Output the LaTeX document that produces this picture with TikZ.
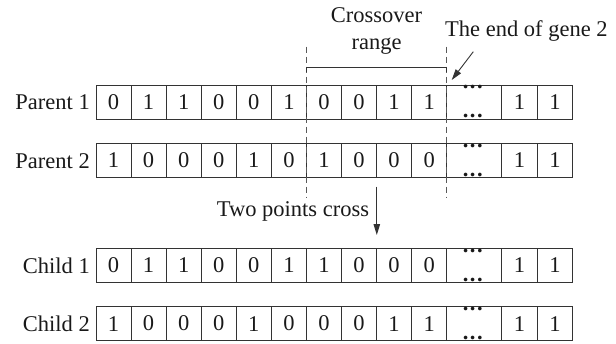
\documentclass[tikz,border=0pt]{standalone}
\usepackage{fontspec}
\setmainfont{Liberation Serif}
\usetikzlibrary{arrows.meta,calc}
\begin{document}
\begin{tikzpicture}[x=1pt,y=-1pt,
  txt/.style={font=\fontsize{22.5}{27.5}\selectfont, text=black!90, inner sep=0pt},
  cell/.style={txt, draw=black!80, line width=0.9pt, minimum width=35.07pt,
    minimum height=34.4pt, outer sep=0pt, anchor=north west},
  dotsbox/.style={cell, minimum width=55.2pt},
  endcell/.style={cell, minimum width=35.4pt},
  dotstxt/.style={txt, font=\fontsize{22.5}{27}\selectfont\bfseries, anchor=base},
  guide/.style={draw=black!65, line width=0.9pt, dash pattern=on 6pt off 4pt},
  plain/.style={draw=black!80, line width=0.9pt},
  arr/.style={plain, -{Triangle[length=11pt,width=6.5pt]}}
]
\useasboundingbox (0,0) rectangle (616,343);

\foreach \r/\top/\lab/\bits in {
  p1/85/{Parent 1}/{0,1,1,0,0,1,0,0,1,1},
  p2/143.3/{Parent 2}/{1,0,0,0,1,0,1,0,0,0},
  c1/248.3/{Child 1}/{0,1,1,0,0,1,1,0,0,0},
  c2/306.4/{Child 2}/{1,0,0,0,1,0,0,0,1,1}}{
  \foreach \b [count=\i] in \bits {
    \node[cell] (\r-\i) at ({96+(\i-1)*35.07}, \top) {\b};
  }
  \node[dotsbox] (\r-d) at (446.7,\top) {};
  \node[endcell] (\r-11) at (501.9,\top) {1};
  \node[endcell] (\r-12) at (537.3,\top) {1};
  \node[dotstxt] (\r-dt) at ($(\r-d.north)+(-1.5,3.8)$) {.\kern1.5pt.\kern1.5pt.};
  \node[dotstxt] (\r-db) at ($(\r-d.south)+(-1.5,-1.6)$) {.\kern1.5pt.\kern1.5pt.};
  \node[txt, anchor=base east] (\r-lab) at ($(\r-1.west)+(-6,7.5)$) {\lab};
}

% crossover guides
\coordinate (ga1) at (306.7,46.7);
\coordinate (ga2) at (306.7,197);
\coordinate (gb1) at (446.7,46.7);
\coordinate (gb2) at (446.7,197);
\draw[guide] (ga1) -- (ga2);
\draw[guide] (gb1) -- (gb2);

% bracket
\coordinate (br1) at (306.7,72);
\coordinate (br2) at (306.7,67.7);
\coordinate (br3) at (446.7,67.7);
\coordinate (br4) at (446.7,72);
\draw[plain] (br1) -- (br2) -- (br3) -- (br4);

\node[txt, align=center, anchor=center] (cross) at (376.5,31) {Crossover\\range};

\node[txt, anchor=base west] (gene) at (445,36.7) {The end of gene 2};
\coordinate (ge1) at (473.3,51.7);
\coordinate (ge2) at (451.7,80);
\draw[arr] (ge1) -- (ge2);

\node[txt, anchor=base west] (two) at (216.7,216) {Two points cross};
\coordinate (tp1) at (376.8,186.7);
\coordinate (tp2) at (376.8,235);
\draw[arr] (tp1) -- (tp2);
\end{tikzpicture}
\end{document}
